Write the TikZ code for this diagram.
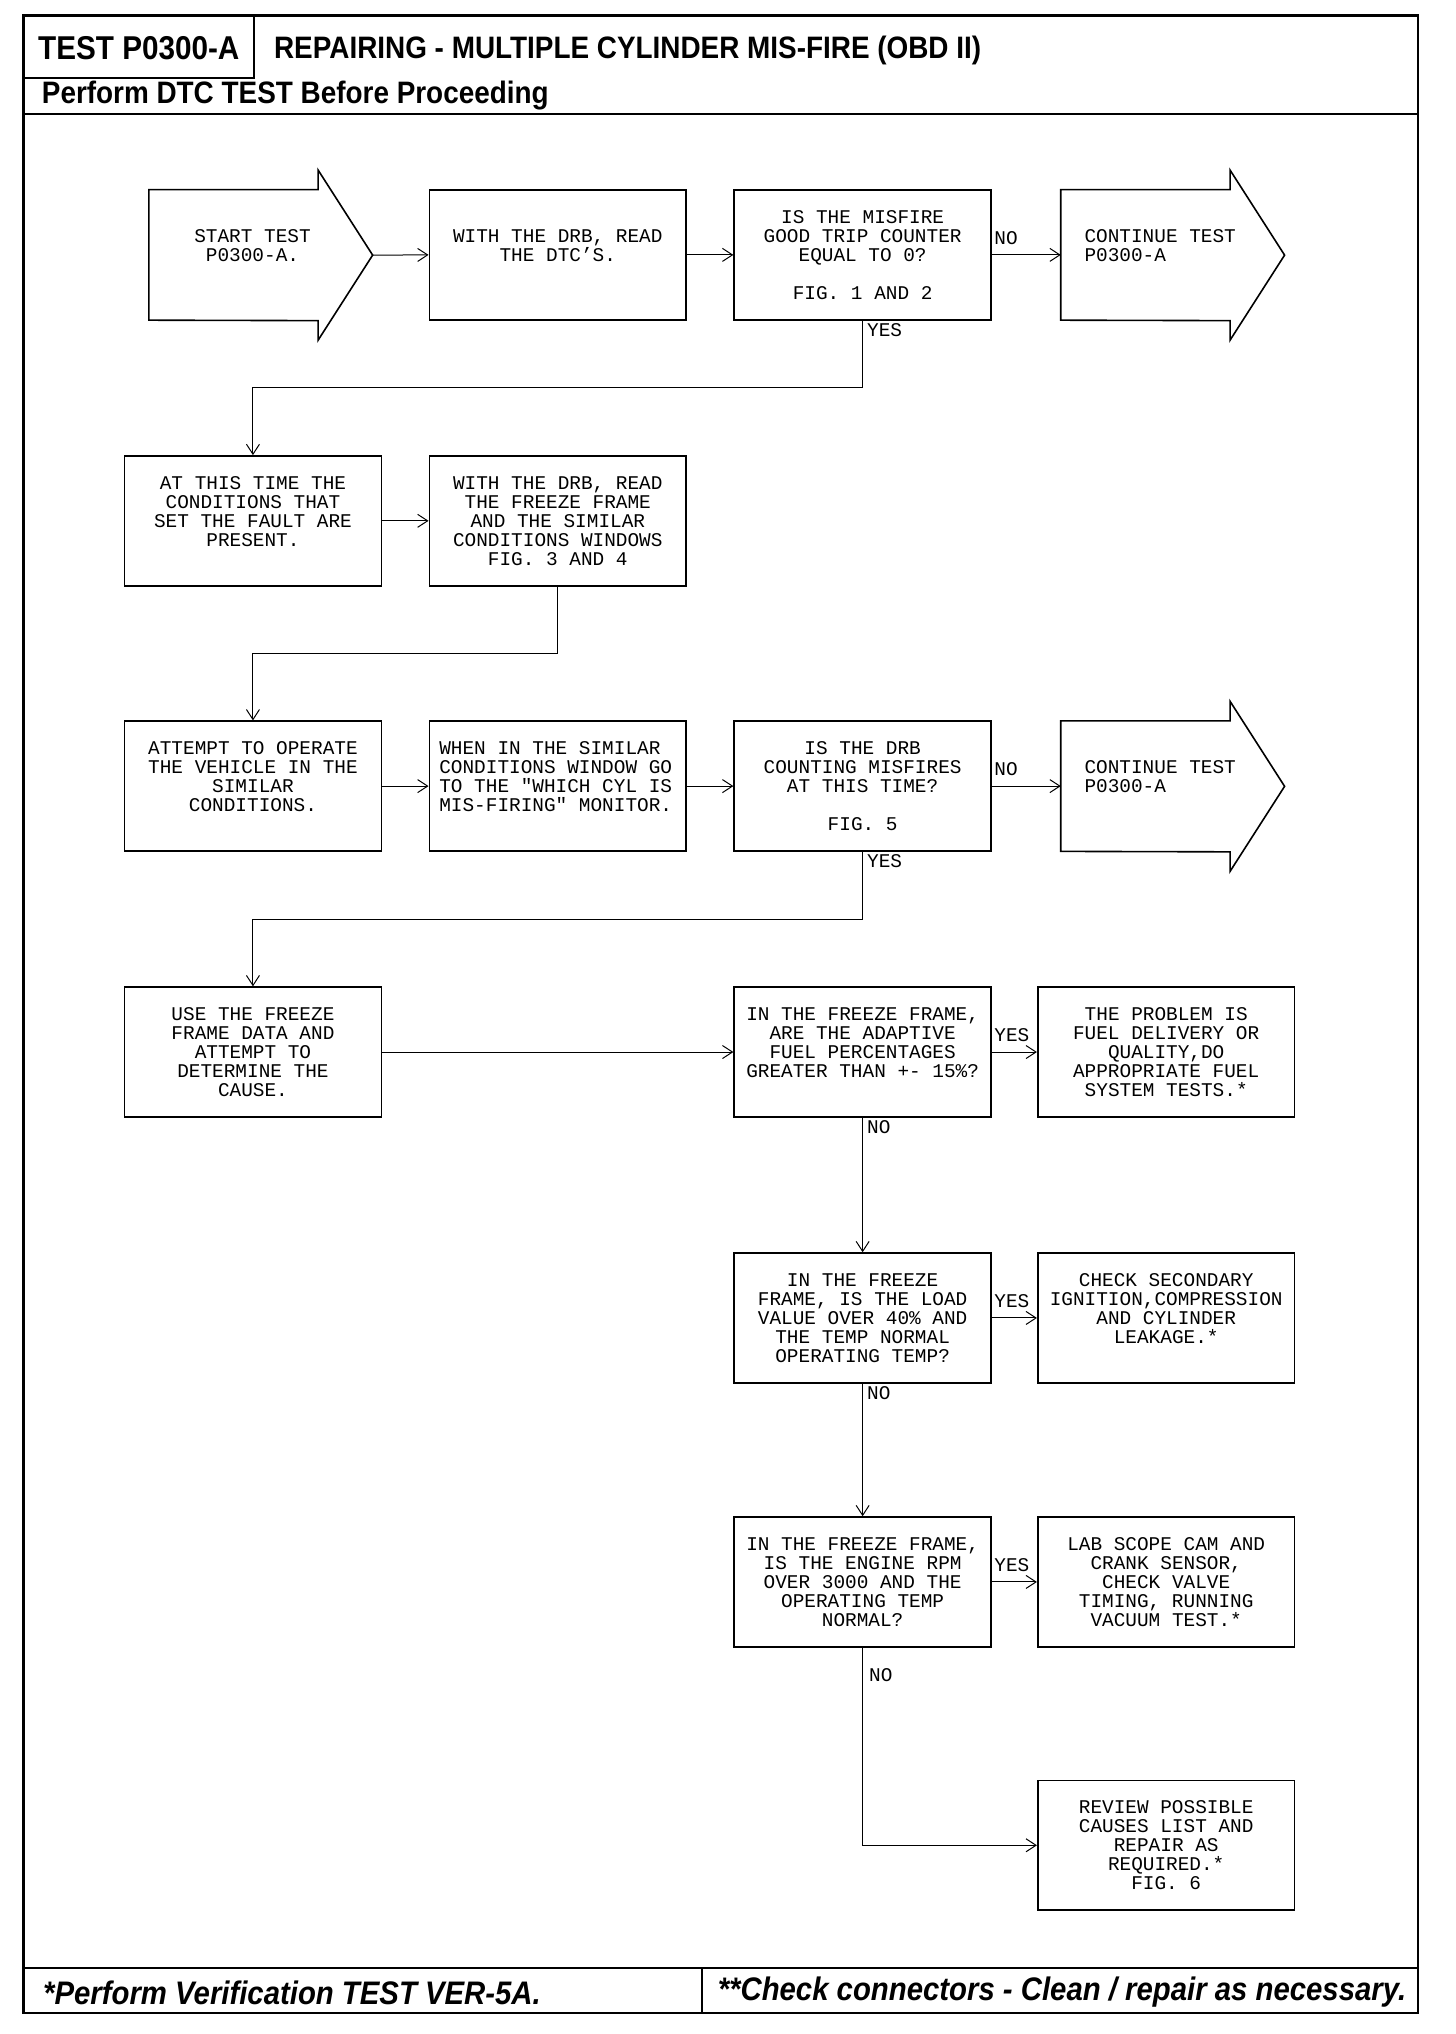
\documentclass[tikz,border=0pt]{standalone}
\usepackage{fontspec}
\setmainfont{Liberation Sans}
\newfontfamily\stepfont{Liberation Mono}
\newfontfamily\headfont[FakeStretch=0.9]{Liberation Sans}
\usetikzlibrary{arrows.meta}

\newcommand{\stepsize}{\stepfont\fontsize{9.7pt}{9.5pt}\selectfont}
\newcommand{\steptext}[2][\centering]{\parbox[c][64.9pt][c]{128.5pt}{#1#2\par}}
\newcommand{\arrowtext}[2][\centering]{\parbox[c][64.9pt][c]{84.3pt}{#1#2\par}}

\tikzset{
  stepbox/.style={draw, line width=0.8pt, inner sep=0pt, font=\stepsize},
  bigarrow/.style={inner sep=0pt, font=\stepsize},
  outline/.style={line width=0.8pt},
  frame/.style={line width=1.2pt},
  flow/.style={->, line width=0.5pt},
  lbl/.style={font=\stepsize, inner sep=1pt},
  headtext/.style={inner sep=0pt, anchor=west, font=\headfont\bfseries\fontsize{15.5pt}{17pt}\selectfont},
  foottext/.style={inner sep=0pt, anchor=west, font=\headfont\bfseries\itshape\fontsize{16.3pt}{18pt}\selectfont}
}

\begin{document}
\begin{tikzpicture}[x=0.6488pt, y=0.6488pt, >={Straight Barb[length=5pt,width=6.5pt]}]
\useasboundingbox (0,0) rectangle (1122,-1568);

% page frame
\draw[frame] (18,-12) rectangle (1093,-1552);
\draw[frame] (18,-60) -| (196,-12);
\draw[frame] (18,-88) -- (1093,-88);
\draw[frame] (18,-1517) -- (1093,-1517);
\draw[frame] (541,-1517) -- (541,-1552);

\node[inner sep=0pt, font=\headfont\bfseries\fontsize{16.5pt}{18pt}\selectfont] (testno) at (107,-37) {TEST P0300-A};
\node[headtext] (title) at (211,-39) {REPAIRING - MULTIPLE CYLINDER MIS-FIRE (OBD II)};
\node[headtext] (dtcnote) at (32,-74) {Perform DTC TEST Before Proceeding};
\node[foottext] (vernote) at (33,-1536) {*Perform Verification TEST VER-5A.};
\node[foottext] (connote) at (553,-1536) {**Check connectors - Clean / repair as necessary.};

% row 1
\node[bigarrow] (start) at (180,-196.5) {\arrowtext[\centering\leftskip=19pt plus 1fil]{START TEST\\P0300-A.\\\mbox{}}};
\draw[outline] (start.south west) -- (start.north west) -- (start.north east) -- ++(0,15)
  -- ++(42,-65.5) coordinate (starttip) -- ++(-42,-65.5) -- ++(0,15) -- cycle;
\node[stepbox] (readdtc) at (430,-196.5) {\steptext{WITH THE DRB, READ\\THE DTC’S.\\\mbox{}}};
\node[stepbox] (q1) at (665,-196.5) {\steptext{IS THE MISFIRE\\GOOD TRIP COUNTER\\EQUAL TO 0?\\\mbox{}\\FIG. 1 AND 2}};
\node[bigarrow] (cont1) at (883,-196.5) {\arrowtext[\raggedright\leftskip=11.7pt\rightskip=-20pt plus 1fil]{CONTINUE TEST\\P0300-A\\\mbox{}}};
\draw[outline] (cont1.south west) -- (cont1.north west) -- (cont1.north east) -- ++(0,15)
  -- ++(42,-65.5) coordinate (cont1tip) -- ++(-42,-65.5) -- ++(0,15) -- cycle;

% row 2
\node[stepbox] (present) at (195,-401.5) {\steptext{AT THIS TIME THE\\CONDITIONS THAT\\SET THE FAULT ARE\\PRESENT.\\\mbox{}}};
\node[stepbox] (freeze) at (430,-401.5) {\steptext{WITH THE DRB, READ\\THE FREEZE FRAME\\AND THE SIMILAR\\CONDITIONS WINDOWS\\FIG. 3 AND 4}};

% row 3
\node[stepbox] (operate) at (195,-606) {\steptext{ATTEMPT TO OPERATE\\THE VEHICLE IN THE\\SIMILAR\\CONDITIONS.\\\mbox{}}};
\node[stepbox] (monitor) at (430,-606) {\steptext[\raggedright\leftskip=5pt]{WHEN IN THE SIMILAR\\CONDITIONS WINDOW GO\\TO THE "WHICH CYL IS\\MIS-FIRING" MONITOR.\\\mbox{}}};
\node[stepbox] (q2) at (665,-606) {\steptext{IS THE DRB\\COUNTING MISFIRES\\AT THIS TIME?\\\mbox{}\\FIG. 5}};
\node[bigarrow] (cont2) at (883,-606) {\arrowtext[\raggedright\leftskip=11.7pt\rightskip=-20pt plus 1fil]{CONTINUE TEST\\P0300-A\\\mbox{}}};
\draw[outline] (cont2.south west) -- (cont2.north west) -- (cont2.north east) -- ++(0,15)
  -- ++(42,-65.5) coordinate (cont2tip) -- ++(-42,-65.5) -- ++(0,15) -- cycle;

% rows 4 to 7
\node[stepbox] (cause) at (195,-811) {\steptext{USE THE FREEZE\\FRAME DATA AND\\ATTEMPT TO\\DETERMINE THE\\CAUSE.}};
\node[stepbox] (q3) at (665,-811) {\steptext{IN THE FREEZE FRAME,\\ARE THE ADAPTIVE\\FUEL PERCENTAGES\\GREATER THAN +- 15\%?\\\mbox{}}};
\node[stepbox] (fuel) at (899,-811) {\steptext{THE PROBLEM IS\\FUEL DELIVERY OR\\QUALITY,DO\\APPROPRIATE FUEL\\SYSTEM TESTS.*}};
\node[stepbox] (q4) at (665,-1016) {\steptext{IN THE FREEZE\\FRAME, IS THE LOAD\\VALUE OVER 40\% AND\\THE TEMP NORMAL\\OPERATING TEMP?}};
\node[stepbox] (ign) at (899,-1016) {\steptext{CHECK SECONDARY\\IGNITION,COMPRESSION\\AND CYLINDER\\LEAKAGE.*\\\mbox{}}};
\node[stepbox] (q5) at (665,-1219.5) {\steptext{IN THE FREEZE FRAME,\\IS THE ENGINE RPM\\OVER 3000 AND THE\\OPERATING TEMP\\NORMAL?}};
\node[stepbox] (scope) at (899,-1219.5) {\steptext{LAB SCOPE CAM AND\\CRANK SENSOR,\\CHECK VALVE\\TIMING, RUNNING\\VACUUM TEST.*}};
\node[stepbox] (review) at (899,-1422.5) {\steptext{REVIEW POSSIBLE\\CAUSES LIST AND\\REPAIR AS\\REQUIRED.*\\FIG. 6}};

% connectors
\draw[flow] (starttip) -- (readdtc.west);
\draw[flow] (readdtc) -- (q1);
\draw[flow] (q1.east) -- node[lbl, pos=0, anchor=south west, yshift=4pt] {NO} (cont1.west);
\draw[flow] (q1.south) -- node[lbl, pos=0, anchor=north west, xshift=1pt] {YES} ++(0,-51.5) -| (present.north);
\draw[flow] (present) -- (freeze);
\draw[flow] (freeze.south) -- ++(0,-51.5) -| (operate.north);
\draw[flow] (operate) -- (monitor);
\draw[flow] (monitor) -- (q2);
\draw[flow] (q2.east) -- node[lbl, pos=0, anchor=south west, yshift=4pt] {NO} (cont2.west);
\draw[flow] (q2.south) -- node[lbl, pos=0, anchor=north west, xshift=1pt] {YES} ++(0,-52) -| (cause.north);
\draw[flow] (cause) -- (q3);
\draw[flow] (q3) -- node[lbl, pos=0, anchor=south west, yshift=4pt] {YES} (fuel);
\draw[flow] (q3) -- node[lbl, pos=0, anchor=north west, xshift=1pt] {NO} (q4);
\draw[flow] (q4) -- node[lbl, pos=0, anchor=south west, yshift=4pt] {YES} (ign);
\draw[flow] (q4) -- node[lbl, pos=0, anchor=north west, xshift=1pt] {NO} (q5);
\draw[flow] (q5) -- node[lbl, pos=0, anchor=south west, yshift=4pt] {YES} (scope);
\draw[flow] (q5.south) |- node[lbl, pos=0.07, anchor=west, xshift=2pt] {NO} (review.west);
\end{tikzpicture}
\end{document}
